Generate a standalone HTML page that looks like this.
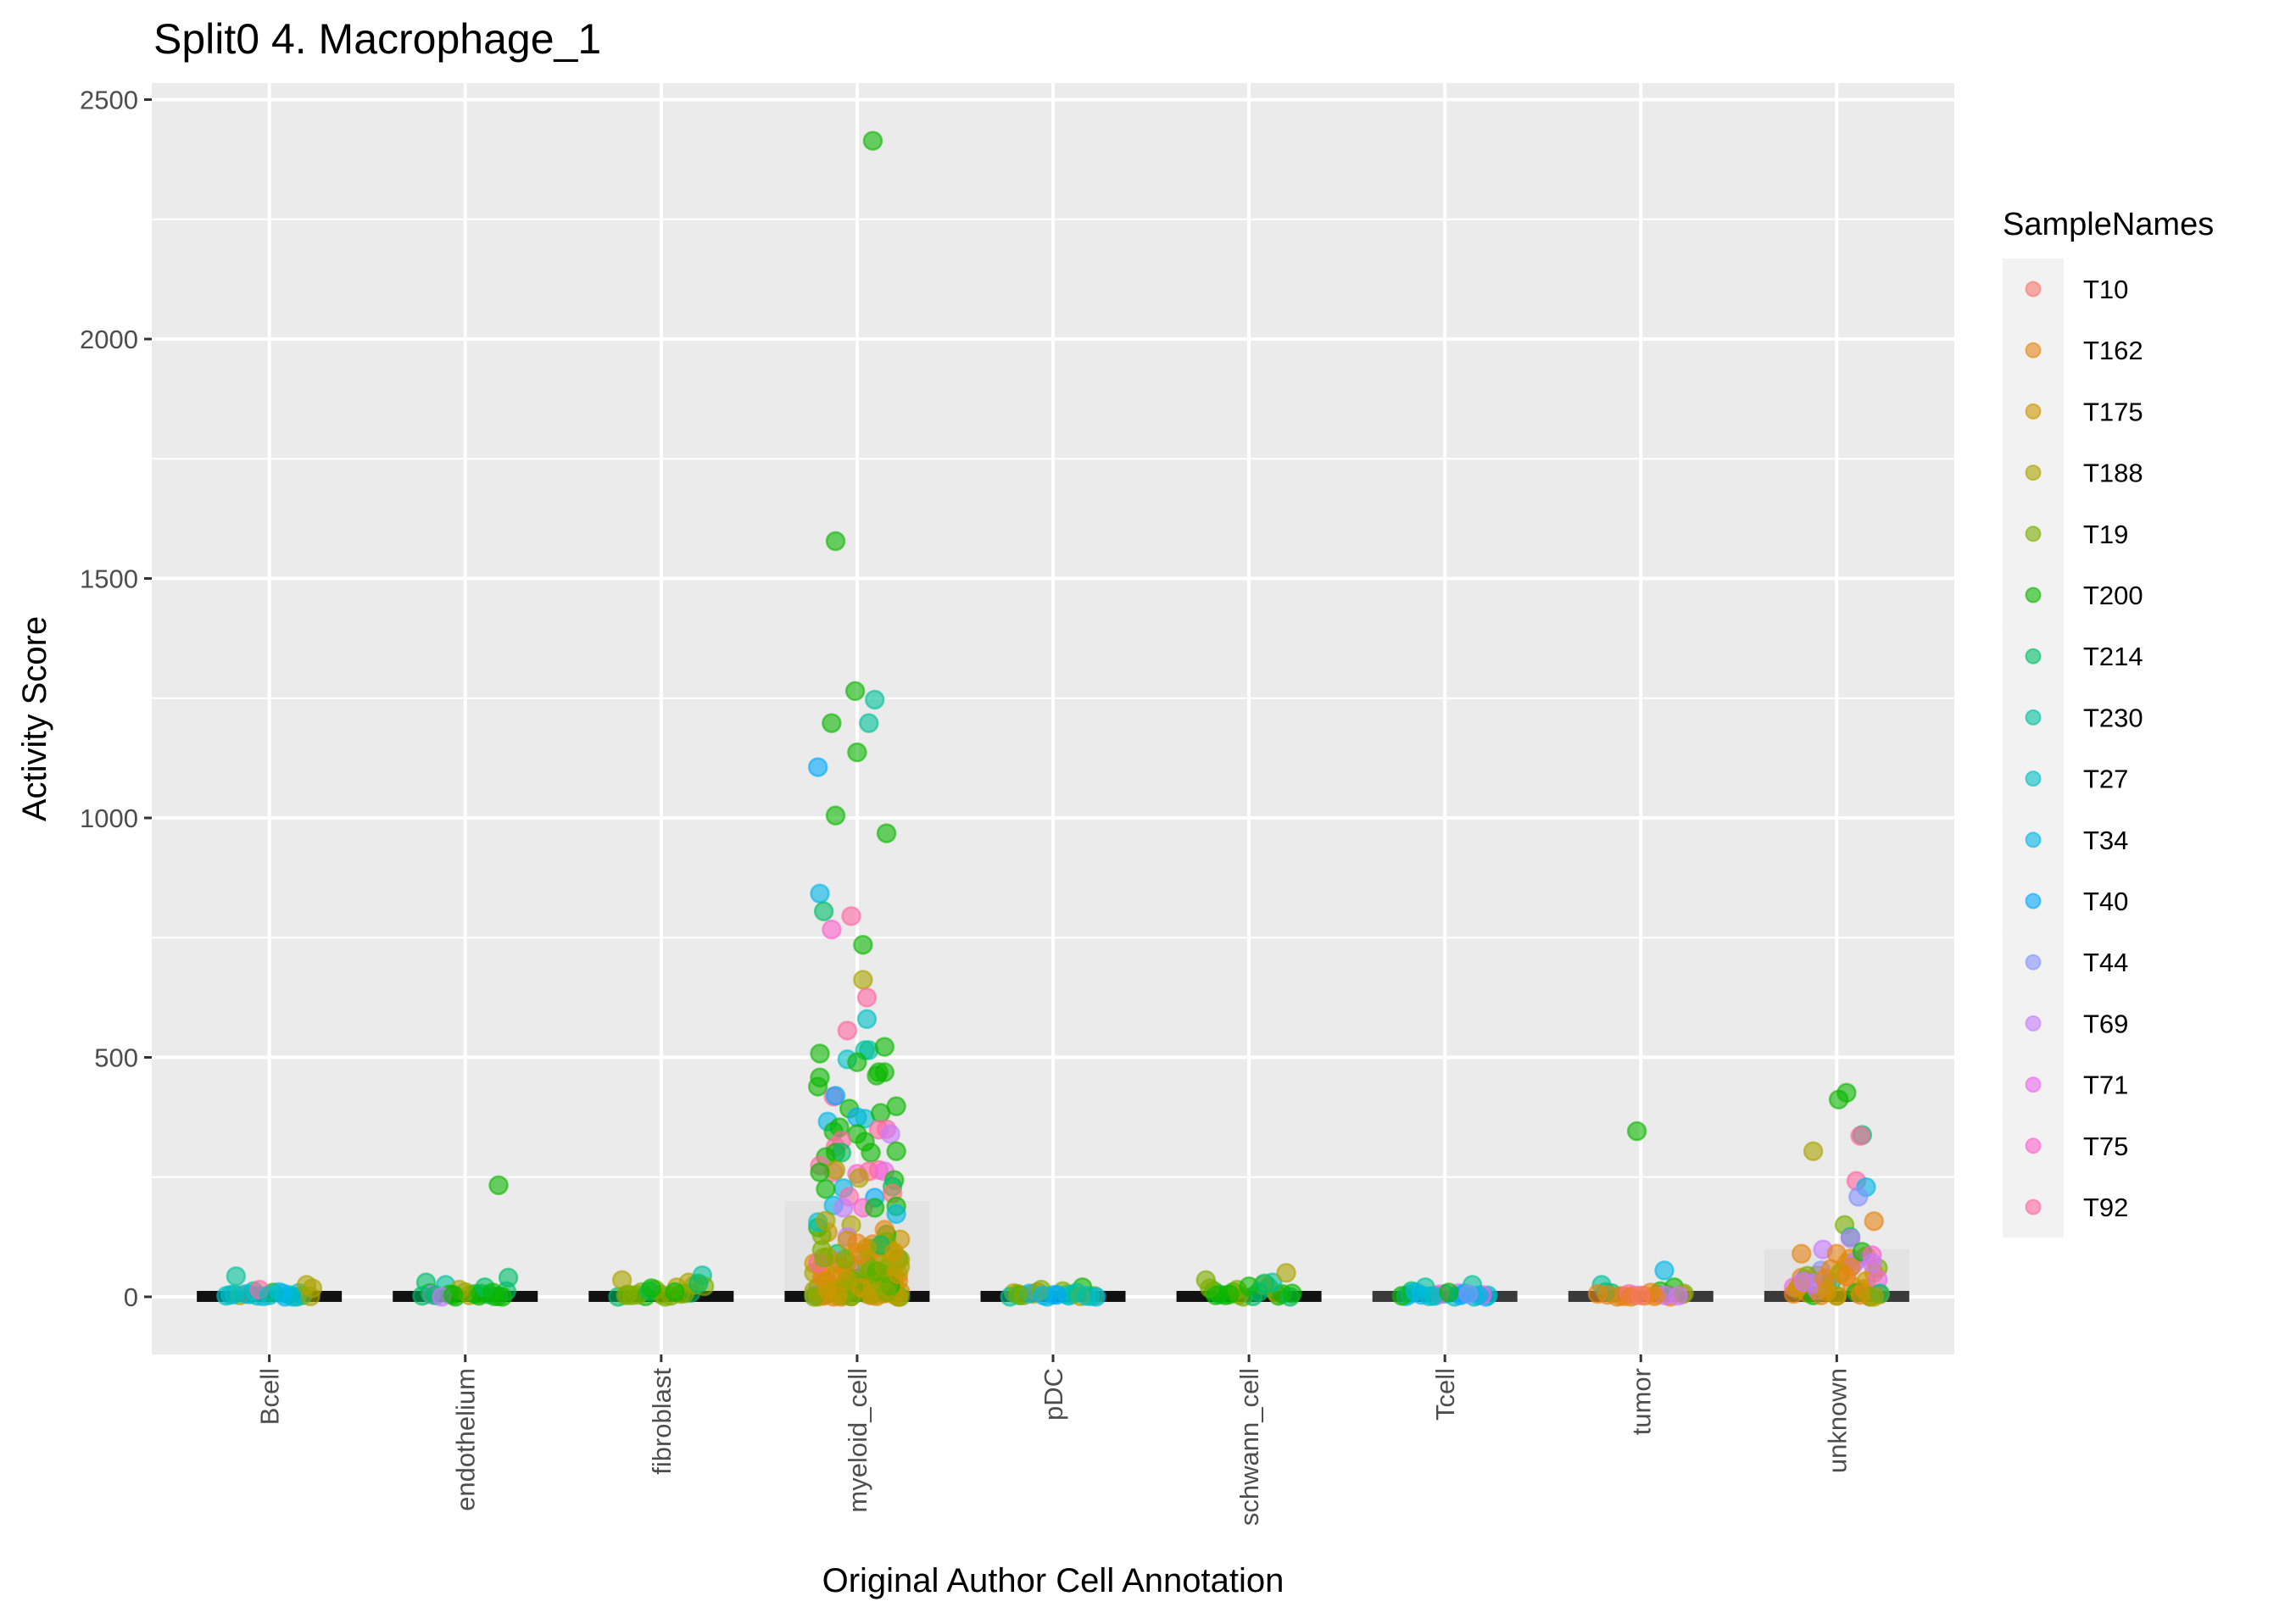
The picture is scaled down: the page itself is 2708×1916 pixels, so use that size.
<!DOCTYPE html>
<html><head><meta charset="utf-8">
<style>
html,body{margin:0;padding:0;background:#fff;}
svg{display:block;font-family:"Liberation Sans",sans-serif;}
</style></head>
<body>
<svg id="chart" width="2708" height="1916" viewBox="0 0 2708 1916" xmlns="http://www.w3.org/2000/svg">
<rect x="0" y="0" width="2708" height="1916" fill="#ffffff"/>
<text x="181" y="63" font-size="50" fill="#000">Split0 4. Macrophage_1</text>
<rect x="179" y="98" width="2126" height="1500" fill="#EBEBEB"/>
<g id="grid"></g>
<g id="bands"></g>
<g id="points"></g>
<g id="axes"></g>
<text x="1242" y="1878" font-size="40" text-anchor="middle" fill="#000">Original Author Cell Annotation</text>
<text transform="translate(54,848) rotate(-90)" font-size="40" text-anchor="middle" fill="#000">Activity Score</text>
<g id="legend"></g>
</svg>
<script>
const categories = ["Bcell","endothelium","fibroblast","myeloid_cell","pDC","schwann_cell","Tcell","tumor","unknown"];
const sampleNames = ["T10","T162","T175","T188","T19","T200","T214","T230","T27","T34","T40","T44","T69","T71","T75","T92"];
const yTicks = [0,500,1000,1500,2000,2500];
const yMinorTicks = [250,750,1250,1750,2250];
const baseJitter = [-0.22,0.1,-0.05,0.19,-0.15,0.02,0.22,-0.1,0.14,-0.18,0.05,-0.03,0.17,-0.2,0.08,-0.12,0.21,0,-0.08,0.12,-0.17,0.15,-0.06,0.07];
const bcellVals = [2,5,0,8,3,1,12,4,0,6,2,9,3,0,15,5,1,7,18,4,43,25,10,3];
const bcellSmps = [8,7,9,8,3,9,7,8,6,9,8,5,7,9,15,8,3,9,3,8,7,3,9,8];
const endoVals = [3,1,5,0,8,12,2,40,30,4,0,6,10,2,25,7,1,3,15,5,20,9,0,4];
const endoSmps = [3,5,6,5,5,6,5,6,6,12,5,5,4,6,7,5,5,6,3,5,6,5,12,5];
const fibroVals = [2,5,0,10,20,8,3,15,1,6,30,4,12,0,25,7,18,3,45,10,22,35,5,28];
const fibroSmps = [4,4,6,4,3,6,4,4,5,4,3,4,6,4,3,4,5,4,7,5,4,3,4,6];
const myeloidVals = [0,5,10,20,30,45,60,80,100,120,2,15,25,40,55,70,90,110,130,8,35,65,85,140];
const myeloidSmps = [1,2,3,4,1,2,3,5,1,2,4,3,1,12,4,2,6,1,5,2,14,3,4,1];
const myeloidVals2 = [3,12,22,38,50,75,95,115,135,150,0,18,28,42,58,68,88,105,125,6,33,62,78,145];
const myeloidSmps2 = [4,1,2,5,3,12,1,4,2,3,1,4,5,2,1,13,3,2,12,4,1,2,3,5];
const myeloidVals3 = [1,7,14,26,33,48,52,72,98,0,4,11,19,36,44,66,92,4,9,24,57,83,1,16];
const myeloidSmps3 = [2,4,1,3,4,1,5,2,4,1,3,2,4,1,2,4,3,11,1,2,4,3,5,4];
const myeloidVals4 = [0,0,2,4,6,9,13,17,21,27,32,39,46,53,61,70,79,88,97,108,118,128,0,3];
const myeloidSmps4 = [4,3,1,2,4,5,3,1,4,2,3,4,1,5,3,2,4,1,3,6,2,4,3,1];
const myeloidVals5 = [1,3,5,8,11,15,19,23,29,34,41,47,56,63,71,82,93,102,112,0,2,6,10,14];
const myeloidSmps5 = [3,4,2,1,3,4,2,5,4,3,1,2,4,3,15,4,2,3,1,4,2,3,4,2];
const pdcVals = [2,5,0,8,3,1,12,4,0,6,2,20,3,0,10,5,1,7,15,4,2,9,3,6];
const pdcSmps = [4,8,9,3,5,8,4,9,7,3,8,5,4,9,1,8,3,9,4,10,8,7,9,4];
const schwannVals = [2,5,0,10,20,8,3,15,1,6,30,4,12,0,25,7,18,3,50,10,22,35,5,28];
const schwannSmps = [5,6,4,5,6,3,5,4,6,5,7,4,5,6,3,5,4,5,3,6,5,4,5,6];
const tcellVals = [2,5,0,8,3,1,12,4,0,6,2,20,3,0,10,5,1,7,25,4,2,9,3,6];
const tcellSmps = [8,9,10,12,8,9,6,13,8,9,5,7,10,8,9,14,8,10,7,9,8,5,9,11];
const tumorVals = [2,5,0,8,3,1,12,4,0,6,2,20,3,0,10,5,1,7,25,4,2,9,3,6];
const tumorSmps = [1,0,1,6,12,1,5,0,1,15,1,5,12,1,6,0,1,4,7,1,12,1,0,1];
const unknownVals = [0,10,25,40,60,80,5,15,35,50,70,2,20,45,65,85,8,30,55,75,12,3,18,48];
const unknownSmps = [1,2,12,1,4,1,2,5,12,1,2,4,13,1,12,1,2,6,11,12,1,5,2,1];
const unknownVals2 = [2,6,14,22,33,44,58,3,9,17,28,38,52,1,4,11,26,36,62,7,19,31,0,42];
const unknownSmps2 = [2,1,12,1,2,4,1,1,5,2,12,1,3,4,1,2,1,13,1,6,2,12,3,1];
const outlierCat = [3,3,3,3,3,3,3,3,3,3,3,3,3,3,3,3,3,3,3,3,3,3,3,3,3,3,3,3,3,3,3,3,3,3,3,3,3,3,3,3,3,3,3,3,3,3,3,3,3,3,3,3,3,3,3,3,3,3,3,3,3,3,3,3,3,3,3,3,3,3,3,3,3,3,3,3, 1,7,7, 8,8,8,8,8,8,8,8,8,8,8,8,8,8,8,8,8,8];
const outlierJit = [0.08,-0.11,-0.01,0.09,-0.13,0.06,0,-0.2,-0.11,0.15,-0.19,-0.17,-0.03,-0.13,0.03,0.03,0.05,0.05,-0.05,0.06,0.14,0.04,-0.19,-0.05,0,0.14,0.11,-0.19,0.1,-0.2,-0.12,-0.11,0.2,-0.04,0,0.04,0.12,-0.15,-0.09,-0.12,0.11,0.15,0.17,0,-0.08,0.04,-0.11,0.2,-0.11,-0.08,0.07,-0.16,-0.19,-0.12,-0.11,0,0.06,0.11,0.14,-0.19,0.19,0.01,0.18,-0.07,-0.16,-0.04,0.09,0.18,-0.12,-0.07,0.03,0.09,0.2,0.2,-0.2,-0.16, 0.17,-0.02,0.12, 0.05,0.01,0.13,0.12,-0.12,0.1,0.15,0.11,0.19,0.04,0.07,0.07,0.13,0.18,-0.18,-0.07,0,0.18];
const outlierVals = [2414,1578,1265,1247,1198,1198,1137,1106,1005,968,842,805,795,767,735,662,625,580,556,515,522,515,508,496,490,469,469,458,462,439,418,420,398,393,375,372,384,366,354,345,349,350,340,340,326,324,313,304,301,301,301,292,274,260,265,257,262,265,262,260,244,248,230,227,225,209,207,216,191,186,186,186,189,173,156,159, 233,346,55, 426,412,338,336,304,242,229,209,158,150,125,122,94,87,90,99,90,71];
const outlierSmps = [5,5,5,7,5,7,5,10,5,5,9,6,15,14,5,3,15,8,15,7,5,7,5,8,5,5,5,5,5,5,15,10,5,5,10,8,5,9,5,5,15,15,12,5,15,5,15,5,5,6,5,5,15,15,3,14,15,15,13,5,5,3,6,9,5,15,10,0,9,12,14,5,5,9,8,3, 5,5,9, 5,5,6,15,3,15,9,11,1,4,6,12,5,14,1,12,1,12];

const NS="http://www.w3.org/2000/svg";
const PX0=179, PX1=2305, PY0=98, PY1=1598;
const step=(PX1-PX0)/(categories.length-1+1.2);
function xScale(i){return PX0+step*(0.6+i);}
const yZero=1530, yPer=(1530-117.5)/2500;
function yScale(v){return yZero-v*yPer;}
function hcl(h){const L=65,C=100,hr=h*Math.PI/180;const u=C*Math.cos(hr),v=C*Math.sin(hr);
 const Xn=95.047,Yn=100,Zn=108.883;const un=4*Xn/(Xn+15*Yn+3*Zn),vn=9*Yn/(Xn+15*Yn+3*Zn);
 const Y=Yn*Math.pow((L+16)/116,3);const up=u/(13*L)+un,vp=v/(13*L)+vn;
 const X=Y*9*up/(4*vp),Z=Y*(12-3*up-20*vp)/(4*vp);
 let r=(3.2406*X-1.5372*Y-0.4986*Z)/100,g=(-0.9689*X+1.8758*Y+0.0415*Z)/100,b=(0.0557*X-0.2040*Y+1.0570*Z)/100;
 const f=c=>{c=c<=0.0031308?12.92*c:1.055*Math.pow(c,1/2.4)-0.055;return Math.round(Math.max(0,Math.min(1,c))*255);};
 return `rgb(${f(r)},${f(g)},${f(b)})`;}
const colors=sampleNames.map((s,i)=>hcl(15+22.5*i));
function mk(tag,attrs,parent){const e=document.createElementNS(NS,tag);for(const k in attrs)e.setAttribute(k,attrs[k]);parent.appendChild(e);return e;}

const grid=document.getElementById('grid');
yMinorTicks.forEach(t=>{const l=mk('line',{x1:PX0,x2:PX1,y1:yScale(t),y2:yScale(t),stroke:'#fff','stroke-width':2},grid);

});
yTicks.forEach(t=>{const l=mk('line',{x1:PX0,x2:PX1,y1:yScale(t),y2:yScale(t),stroke:'#fff','stroke-width':4},grid);

});
categories.forEach((c,i)=>{const l=mk('line',{x1:xScale(i),x2:xScale(i),y1:PY0,y2:PY1,stroke:'#fff','stroke-width':4},grid);

});

const bands=document.getElementById('bands');
categories.forEach((c,i)=>{
 const cx=xScale(i),hw=0.37*step;
 if(i===3||i===8){const top=yScale(i===3?200:100);const g=mk('rect',{x:cx-hw,y:top,width:2*hw,height:yZero-top,fill:'#888','fill-opacity':0.08},bands);
 
 }
 const r=mk('rect',{x:cx-hw,y:yZero-7,width:2*hw,height:13,fill:(i>=6?'#3a3a3a':'#111')},bands);
 
 
});

const pts=document.getElementById('points');
function drawPt(ci,j,v,s){const c=mk('circle',{cx:xScale(ci)+j*step,cy:yScale(v),r:10.5,fill:colors[s],'fill-opacity':0.6,stroke:colors[s],'stroke-opacity':0.6,'stroke-width':2.5},pts);
 
 }
const clusters=[[0,bcellVals,bcellSmps],[1,endoVals,endoSmps],[2,fibroVals,fibroSmps],[3,myeloidVals,myeloidSmps],[3,myeloidVals2,myeloidSmps2],[3,myeloidVals3,myeloidSmps3],[3,myeloidVals4,myeloidSmps4],[3,myeloidVals5,myeloidSmps5],[4,pdcVals,pdcSmps],[5,schwannVals,schwannSmps],[6,tcellVals,tcellSmps],[7,tumorVals,tumorSmps],[8,unknownVals,unknownSmps],[8,unknownVals2,unknownSmps2]];
clusters.forEach((cl,n)=>{cl[1].forEach((v,k)=>drawPt(cl[0],baseJitter[(k*7+n*5)%baseJitter.length],v,cl[2][k]));});
outlierVals.forEach((v,k)=>drawPt(outlierCat[k],outlierJit[k],v,outlierSmps[k]));

const axes=document.getElementById('axes');
yTicks.forEach(t=>{const y=yScale(t);
 const tk=mk('line',{x1:PX0-9,x2:PX0,y1:y,y2:y,stroke:'#333','stroke-width':3},axes);
 
 
 const tx=mk('text',{x:PX0-16,y:y+11,'font-size':31,'text-anchor':'end',fill:'#4D4D4D'},axes);tx.textContent=t;
 
 });
categories.forEach((c,i)=>{const x=xScale(i);
 const tk=mk('line',{x1:x,x2:x,y1:PY1,y2:PY1+9,stroke:'#333','stroke-width':3},axes);
 
 
 const tx=mk('text',{transform:`translate(${x+11},${PY1+16}) rotate(-90)`,'font-size':31,'text-anchor':'end',fill:'#4D4D4D'},axes);tx.textContent=c;
 
 });

const leg=document.getElementById('legend');
const lt=mk('text',{x:2362,y:277,'font-size':38,fill:'#000'},leg);lt.textContent='SampleNames';


sampleNames.forEach((s,i)=>{const y0=305+i*72.2;
 const bg=mk('rect',{x:2362,y:y0,width:72,height:72.2,fill:'#F2F2F2'},leg);
 
 
 const c=mk('circle',{cx:2398,cy:y0+36,r:8.5,fill:colors[i],'fill-opacity':0.6,stroke:colors[i],'stroke-opacity':0.6,'stroke-width':2},leg);
 
 
 const t=mk('text',{x:2457,y:y0+47,'font-size':31,fill:'#000'},leg);t.textContent=s;
 
 });
</script>
</body></html>
